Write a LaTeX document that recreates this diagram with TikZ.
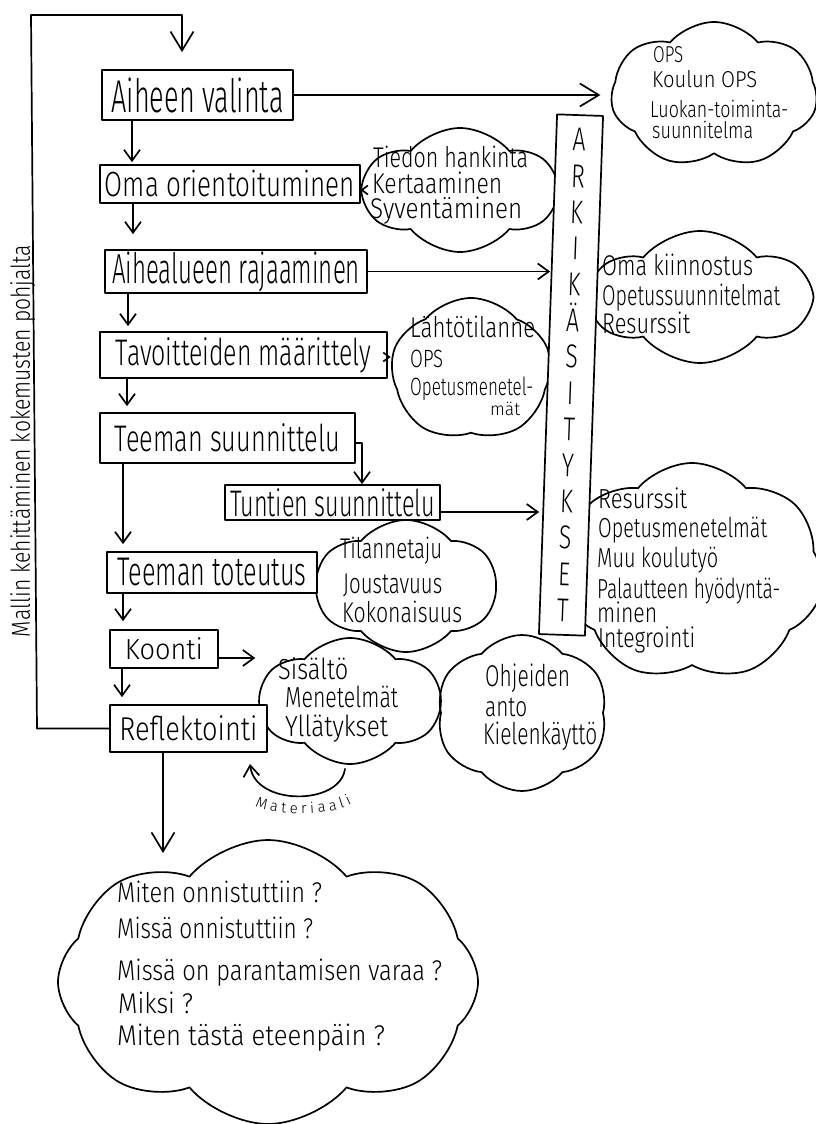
\documentclass[tikz,border=0pt]{standalone}
\usepackage{fontspec}
\usepackage{graphicx}
\setmainfont{Fira Sans Light}
\newfontfamily\hand{Fira Sans Light}
\newfontfamily\handn[FakeStretch=0.7]{Fira Sans Light}
\usetikzlibrary{shapes.symbols,arrows.meta,decorations.text}
\newcommand\fz[1]{\fontsize{#1}{#1}\selectfont}
\newcommand\fitw[2]{\resizebox{#1pt}{\height}{#2}}
\newcommand\tline[6]{\node[txt, font=\hand\fz{#5}] (#1) at (#2,#3) {\fitw{#4}{#6}};}
\tikzset{
  ln/.style={line width=1.7pt, line cap=round, line join=round},
  box/.style={draw, ln, fill=white, inner sep=0pt},
  cl/.style={cloud, draw, ln, cloud ignores aspect, cloud puff arc=100, inner sep=0pt},
  arr/.style={ln, -{Straight Barb[length=11pt,width=16pt]}},
  arrs/.style={ln, -{Straight Barb[length=6pt,width=9pt]}},
  arrb/.style={ln, -{Straight Barb[length=19pt,width=23pt]}},
  txt/.style={anchor=base west, inner sep=0pt},
}
\begin{document}
\begin{tikzpicture}[x=1pt,y=-1pt]
\useasboundingbox (0,0) rectangle (816,1124);
\fill[white] (0,0) rectangle (816,1124);

% clouds
\node[cl, cloud puffs=7, minimum width=206pt, minimum height=146pt] (ops) at (714,95) {};
\node[cl, cloud puffs=6, minimum width=192pt, minimum height=124pt] (tied) at (460,190) {};
\node[cl, cloud puffs=6, minimum width=218pt, minimum height=132pt] (kiin) at (700,297) {};
\node[cl, cloud puffs=5, minimum width=160pt, minimum height=144pt] (lahto) at (471,370) {};
\node[cl, cloud puffs=7, minimum width=262pt, minimum height=218pt] (resu) at (692,572) {};
\node[cl, cloud puffs=6, minimum width=180pt, minimum height=132pt] (tila) at (406,586) {};
\node[cl, cloud puffs=6, minimum width=180pt, minimum height=126pt] (sisa) at (350,701) {};
\node[cl, cloud puffs=6, minimum width=172pt, minimum height=156pt] (ohje) at (522,713) {};
\node[cl, cloud puffs=8, minimum width=420pt, minimum height=284pt] (bott) at (268,982) {};

% bar
\node[draw, ln, fill=white, minimum width=46pt, minimum height=520pt, rotate=-2, inner sep=0pt,
      align=center, font=\handn\fontsize{33}{36.2}\selectfont] (bar) at (571,375)
      {A\\R\\K\\I\\K\\Ä\\S\\I\\T\\Y\\K\\S\\E\\T};

% boxes
\node[box, minimum width=191pt, minimum height=50pt, font=\hand\fz{46}] (aihe) at (197.5,95) {\fitw{172}{Aiheen valinta}};
\node[box, minimum width=260pt, minimum height=38pt, font=\hand\fz{35}] (oma) at (230,184) {\fitw{250}{Oma orientoituminen}};
\node[box, minimum width=262pt, minimum height=43pt, font=\hand\fz{42}] (alue) at (236,271.5) {\fitw{248}{Aihealueen rajaaminen}};
\node[box, minimum width=287pt, minimum height=46pt, font=\hand\fz{37}] (tavo) at (243.5,355) {\fitw{255}{Tavoitteiden määrittely}};
\node[box, minimum width=255pt, minimum height=50pt, font=\hand\fz{37}] (tsuun) at (227.5,438) {\fitw{225}{Teeman suunnittelu}};
\node[box, minimum width=215pt, minimum height=35pt, font=\hand\fz{37}] (tunt) at (332.5,502.5) {\fitw{205}{Tuntien suunnittelu}};
\node[box, minimum width=210pt, minimum height=41pt, font=\hand\fz{40}] (ttot) at (212,572.5) {\fitw{189}{Teeman toteutus}};
\node[box, minimum width=108pt, minimum height=38pt, font=\hand\fz{29}] (koon) at (164,649) {\fitw{78}{Koonti}};
\node[box, minimum width=157pt, minimum height=47pt, font=\hand\fz{33}] (refl) at (188.5,728.5) {\fitw{138}{Reflektointi}};

% side text
\node[anchor=base, inner sep=0pt, rotate=90, font=\hand\fz{26}] (side) at (30,441) {\fitw{392}{Mallin kehittäminen kokemusten pohjalta}};

% coordinates
\coordinate (lt) at (31,15);
\coordinate (lb) at (37,728.5);
\coordinate (rt) at (182,15);
\coordinate (bt) at (163,853);
\coordinate (mt) at (250,764);

% connectors
\draw[arrb, shorten >=17pt] (refl.west) -- (lb) -- (lt) -- (rt) -- (rt |- aihe.north);
\draw[arr, shorten >=2pt] ([xshift=-65.5pt]aihe.south) -- ([xshift=-65.5pt]aihe.south |- oma.north);
\draw[arr, shorten >=15pt] ([xshift=-97pt]oma.south) -- ([xshift=-97pt]oma.south |- alue.north);
\draw[arr, shorten >=5pt] ([xshift=-108pt]alue.south) -- ([xshift=-108pt]alue.south |- tavo.north);
\draw[arr, shorten >=6pt] ([xshift=-116.5pt]tavo.south) -- ([xshift=-116.5pt]tavo.south |- tsuun.north);
\draw[arr, shorten >=7pt] ([xshift=-104.5pt]tsuun.south) -- ([xshift=-104.5pt]tsuun.south |- ttot.north);
\draw[arr, shorten >=8pt] ([xshift=-89pt]ttot.south) -- ([xshift=-89pt]ttot.south |- koon.north);
\draw[arr, shorten >=7pt] ([xshift=-42pt]koon.south) -- ([xshift=-42pt]koon.south |- refl.north);
\draw[arrb] ([xshift=-25.5pt]refl.south) -- (bt);
\draw[arr] ([yshift=-5pt]tsuun.east) -| ([xshift=29.5pt]tunt.north);
\draw[arrb, shorten >=10pt] (aihe.east) -- (aihe.east -| ops.west);
\draw[arrs] ([yshift=-6pt]oma.east) -- ([yshift=-6pt]oma.east -| tied.west);
\draw[arr, shorten >=-3pt] (alue.east) -- (alue.east -| bar.west);
\draw[arrs] ([yshift=-2pt]tavo.east) -- ([yshift=-2pt]tavo.east -| lahto.west);
\draw[arr, shorten >=8pt] ([yshift=-9.5pt]tunt.east) -- ([yshift=-9.5pt]tunt.east -| bar.west);
\draw[arr, shorten >=3pt] ([yshift=-9pt]koon.east) -- ([yshift=-9pt]koon.east -| sisa.west);
\draw[arr] ([xshift=-5pt,yshift=-4pt]sisa.south) .. controls (340,806) and (255,806) .. (mt);
\path[decorate, decoration={text along path, text={|\hand\fz{15}|Materiaali}, text align={fit to path}}]
  (255,806) .. controls (276,816) and (330,816) .. (352,804);

% cloud texts
\tline{o1}{653}{63}{30}{23}{OPS}
\tline{o2}{652}{88}{105}{23}{Koulun OPS}
\tline{o3}{650}{117}{138}{23}{Luokan-toiminta-}
\tline{o4}{652}{138}{101}{23}{suunnitelma}

\tline{t1}{373}{167}{155}{28.5}{Tiedon hankinta}
\tline{t2}{372}{193}{130}{28.5}{Kertaaminen}
\tline{t3}{370}{218}{152}{28.5}{Syventäminen}

\tline{k1}{602}{275}{151}{28.5}{Oma kiinnostus}
\tline{k2}{602}{305}{178}{28.5}{Opetussuunnitelmat}
\tline{k3}{602}{333}{88}{28.5}{Resurssit}

\tline{l1}{410}{337}{125}{28.5}{Lähtötilanne}
\tline{l2}{410}{367}{33}{25}{OPS}
\tline{l3}{410}{395}{123}{25}{Opetusmenetel-}
\tline{l4}{490}{415}{30}{18}{mät}

\tline{r1}{598}{508}{89}{27.5}{Resurssit}
\tline{r2}{598}{537}{169}{27.5}{Opetusmenetelmät}
\tline{r3}{597}{567}{121}{27.5}{Muu koulutyö}
\tline{r4}{597}{598}{183}{27.5}{Palautteen hyödyntä-}
\tline{r5}{597}{622}{60}{27.5}{minen}
\tline{r6}{598}{647}{97}{27.5}{Integrointi}

\tline{s1}{340}{558}{102}{28.5}{Tilannetaju}
\tline{s2}{343}{593}{99}{28.5}{Joustavuus}
\tline{s3}{342}{622}{120}{28.5}{Kokonaisuus}

\tline{m1}{278}{679}{70}{29}{Sisältö}
\tline{m2}{285}{707}{113}{29}{Menetelmät}
\tline{m3}{285}{736}{103}{29}{Yllätykset}

\tline{j1}{485}{686}{85}{30}{Ohjeiden}
\tline{j2}{485}{716}{42}{28}{anto}
\tline{j3}{483}{744}{114}{30}{Kielenkäyttö}

\tline{q1}{117}{902}{205}{28.5}{Miten onnistuttiin ?}
\tline{q2}{117}{938}{196}{28.5}{Missä onnistuttiin ?}
\tline{q3}{117}{980}{325}{28.5}{Missä on parantamisen varaa ?}
\tline{q4}{118}{1013}{75}{28.5}{Miksi ?}
\tline{q5}{117}{1045}{268}{28.5}{Miten tästä eteenpäin ?}
\end{tikzpicture}
\end{document}
